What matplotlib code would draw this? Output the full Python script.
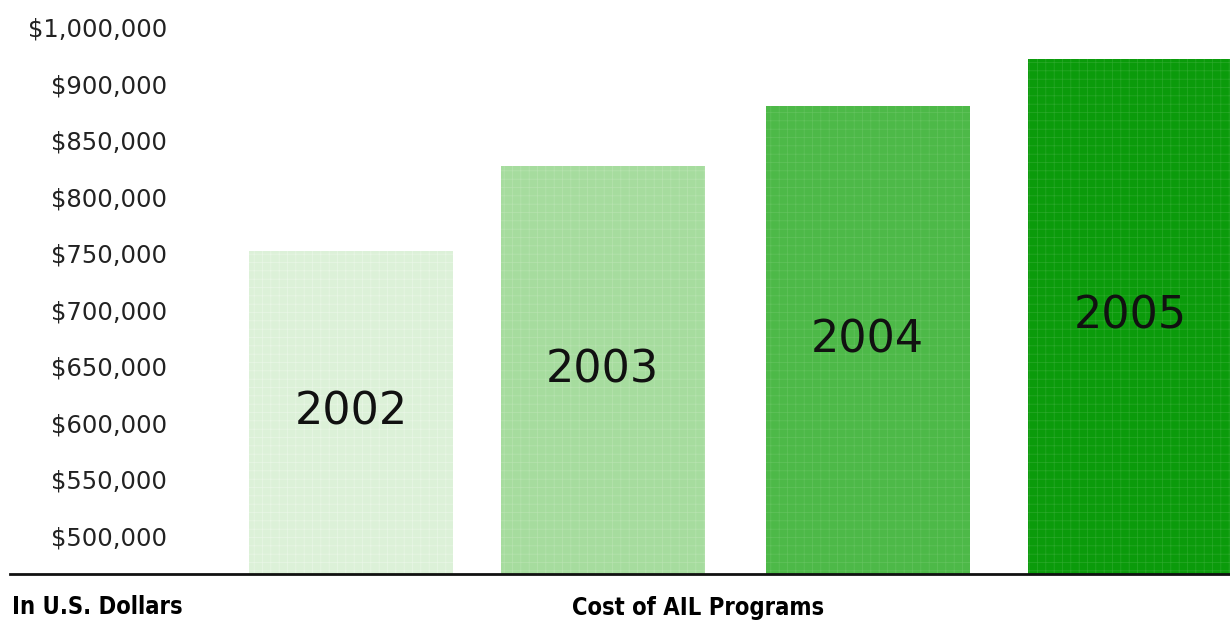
import matplotlib.pyplot as plt

# datos
anios = ['2002', '2003', '2004', '2005']
costos = [752000, 827000, 880000, 922000]
colores = ['#dcf1d8', '#a6dc9e', '#4db948', '#0b9b0b']
tramas = ['#e8f6e5', '#b6e2af', '#62c25d', '#2aa82a']

ticks = [500000, 550000, 600000, 650000, 700000, 750000, 800000, 850000, 900000, 950000]
tick_labels = ['$500,000', '$550,000', '$600,000', '$650,000', '$700,000',
               '$750,000', '$800,000', '$850,000', '$900,000', '$1,000,000']

plt.rcParams['hatch.linewidth'] = 0.5

fig = plt.figure(figsize=(12.3, 6.24), dpi=100)
ax = fig.add_axes([10 / 1230, 50 / 624, 1220 / 1230, 547 / 624])

base = 466400
x = [0, 0.97, 1.99, 3.0]
for i, (a, c) in enumerate(zip(anios, costos)):
    ax.bar(x[i], c - base, bottom=base, width=0.785, color=colores[i],
           edgecolor=tramas[i], linewidth=0, hatch='++')
    ax.text(x[i], base + (c - base) / 2, a, ha='center', va='center',
            fontsize=32, color='#111111')

ax.set_xlim(-1.313, 3.385)
ax.set_ylim(base, 950000)
ax.set_xticks([])
ax.set_yticks(ticks)
ax.set_yticklabels(tick_labels, fontsize=17.5, color='#222222')
ax.tick_params(axis='y', length=0, pad=-113)
for lbl in ax.get_yticklabels():
    lbl.set_horizontalalignment('right')

for s in ['top', 'right', 'left']:
    ax.spines[s].set_visible(False)
ax.spines['bottom'].set_linewidth(2)
ax.spines['bottom'].set_color('#111111')

fig.text(12 / 1230, 1 - 607 / 624, 'In U.S. Dollars', fontsize=17, fontweight='bold',
         family='DejaVu Sans', fontstretch='condensed', ha='left', va='center')
fig.text(698 / 1230, 1 - 608 / 624, 'Cost of AIL Programs', fontsize=17, fontweight='bold',
         family='DejaVu Sans', fontstretch='condensed', ha='center', va='center')

fig.savefig('out.png', dpi=100)
